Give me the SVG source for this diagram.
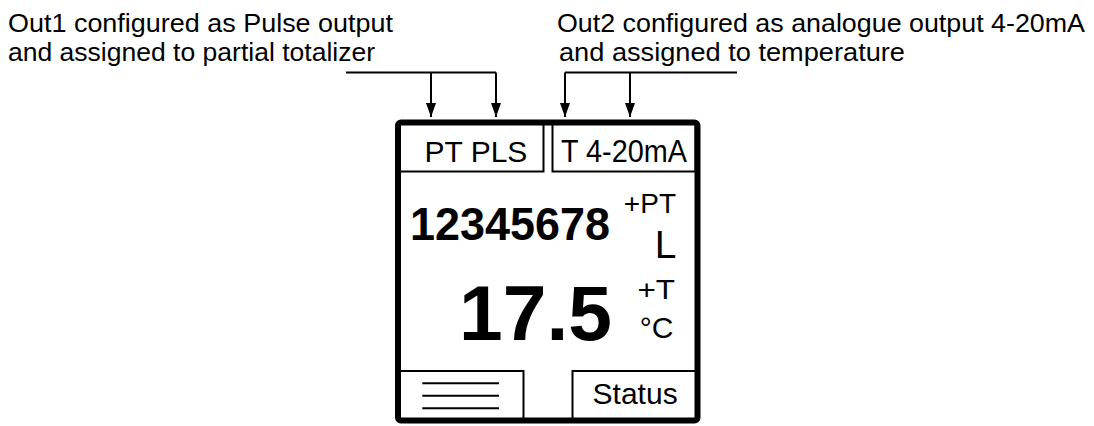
<svg xmlns="http://www.w3.org/2000/svg" width="1094" height="426" viewBox="0 0 1094 426">
<style>
text{font-family:"Liberation Sans",Arial,Helvetica,sans-serif;fill:#000}
.cap{font-size:25.5px}
.thin{fill:none;stroke:#000;stroke-width:2}
.conn{fill:none;stroke:#000;stroke-width:2}
.b{font-weight:bold}
</style>
<defs>
<marker id="arr" markerUnits="userSpaceOnUse" viewBox="0 0 14 10" refX="14" refY="5" markerWidth="14" markerHeight="10" orient="auto">
<path d="M0,0 L14,5 L0,10 z" fill="#000"/>
</marker>
</defs>
<rect width="1094" height="426" fill="#fff"/>
<g id="label-out1">
<text class="cap" x="8" y="31.5" textLength="385" lengthAdjust="spacingAndGlyphs">Out1 configured as Pulse output</text>
<text class="cap" x="8" y="60.5" textLength="367" lengthAdjust="spacingAndGlyphs">and assigned to partial totalizer</text>
</g>
<g id="label-out2">
<text class="cap" x="557" y="31.5" textLength="528" lengthAdjust="spacingAndGlyphs">Out2 configured as analogue output 4-20mA</text>
<text class="cap" x="559" y="60.5" textLength="346" lengthAdjust="spacingAndGlyphs">and assigned to temperature</text>
</g>
<g id="connectors">
<path class="conn" d="M346,72.5 H496"/>
<path class="conn" d="M431,72.5 V117" marker-end="url(#arr)"/>
<path class="conn" d="M496,72.5 V117" marker-end="url(#arr)"/>
<path class="conn" d="M737,72.5 H565"/>
<path class="conn" d="M565,72.5 V117" marker-end="url(#arr)"/>
<path class="conn" d="M630,72.5 V117" marker-end="url(#arr)"/>
</g>
<g id="display">
<rect x="398" y="122.5" width="299.5" height="298" rx="3" fill="none" stroke="#000" stroke-width="6"/>
<g id="out1-box">
<rect class="thin" x="399" y="123" width="144.5" height="48.5"/>
<text x="424.5" y="161.7" font-size="30">PT PLS</text>
</g>
<g id="out2-box">
<rect class="thin" x="552.5" y="123" width="143" height="48.5"/>
<text x="561" y="161.7" font-size="31" textLength="126" lengthAdjust="spacingAndGlyphs">T 4-20mA</text>
</g>
<g id="totalizer">
<text class="b" x="410" y="240.3" font-size="47" textLength="200" lengthAdjust="spacingAndGlyphs">12345678</text>
<text x="676" y="213" font-size="28" text-anchor="end">+PT</text>
<text x="676.5" y="258.3" font-size="39" text-anchor="end">L</text>
</g>
<g id="temperature">
<text class="b" x="459" y="340" font-size="77" textLength="153" lengthAdjust="spacingAndGlyphs">17.5</text>
<text x="637.5" y="299" font-size="27" textLength="37.5" lengthAdjust="spacingAndGlyphs">+T</text>
<text x="673.5" y="338.3" font-size="30" text-anchor="end">°C</text>
</g>
<g id="menu-box">
<rect class="thin" x="399" y="371" width="124.5" height="49"/>
<path class="thin" d="M422.3,383.3 H499 M422.3,395.7 H499 M422.3,408.3 H499"/>
</g>
<g id="status-box">
<rect class="thin" x="572.5" y="371" width="124" height="49"/>
<text x="592.6" y="404.3" font-size="30">Status</text>
</g>
</g>
</svg>
